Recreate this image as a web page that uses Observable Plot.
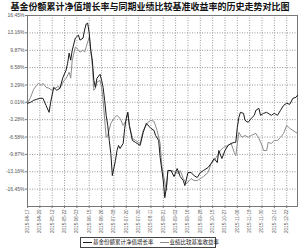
<!DOCTYPE html>
<html><head><meta charset="utf-8">
<script src="https://cdn.jsdelivr.net/npm/d3@7"></script>
<script src="https://cdn.jsdelivr.net/npm/@observablehq/plot@0.6"></script>
<style>
body{margin:0;background:#fff;width:300px;height:249px;overflow:hidden;font-family:"Noto Sans CJK SC",sans-serif;position:relative}
#title{height:13px;line-height:11px;padding-top:1px;font-size:9px;font-weight:bold;text-align:center;color:#111;white-space:nowrap;box-sizing:border-box}
#chart svg{display:block}
#legend{position:absolute;left:80px;top:237px;width:134px;height:9px;border:1px solid #444;font-size:5.5px;line-height:9px;display:flex;align-items:center;color:#111;white-space:nowrap}
#legend .it{display:flex;align-items:center;margin-left:2px;margin-right:4px}
#legend .sw{display:inline-block;width:9px;height:0;border-top:1px solid #111;margin-right:1px}
</style></head>
<body>
<div id="title">基金份额累计净值增长率与同期业绩比较基准收益率的历史走势对比图</div>
<div id="chart"></div>
<div id="legend"><span class="it"><span class="sw" style="border-color:#1a1a1a"></span>基金份额累计净值增长率</span><span class="it"><span class="sw" style="border-color:#8c8c8c"></span>业绩比较基准收益率</span></div>
<script>
const fundDays=[0,2,4,6,8,10,12,14,15,17,19,21,23,25,26,27,28,29,31,33,34,36,37,38,39,40,41,42,43,44,45,47,48,49,50,51,52,53,54,55,57,58,59,60,62,63,64,65,66,68,70,73,75,77,80,82,83,85,86,88,89,90,91,93,95,97,99,101,102,104,106,108,110,112,114,117,119,121,123,124,126,128,130,132,134,135,136,137,138,140,141,143,145,147,148,150,151,153,155,158,160,162,164,166,168,170,172,174,175];
const fundVals=[-0.19,0.0,0.38,0.57,0.76,0.76,-0.57,-1.90,0.0,2.85,2.28,2.66,4.75,6.08,7.41,9.32,7.98,9.89,12.17,12.74,11.79,12.17,13.69,14.83,15.02,13.12,9.89,7.98,4.18,2.85,4.56,5.32,4.18,2.85,0.38,-2.47,-4.37,-7.22,-9.70,-13.88,-11.03,-9.13,-8.17,-8.75,-7.79,-4.94,-3.04,-1.90,-4.37,-7.22,-7.60,-8.17,-5.70,-3.99,-4.94,-5.32,-6.27,-7.22,-10.46,-14.83,-18.06,-16.16,-12.93,-12.93,-14.07,-12.55,-14.07,-14.83,-15.78,-13.31,-13.31,-13.88,-14.26,-13.31,-12.93,-12.36,-11.60,-10.65,-11.41,-9.13,-10.65,-9.13,-8.17,-7.79,-7.60,-7.60,-4.75,-2.85,-1.90,-2.09,-3.42,-3.80,-3.04,-2.47,-1.52,-1.14,-2.47,-2.09,-1.90,-2.47,-2.09,-2.47,-1.52,-0.57,-0.19,-0.38,0.76,0.95,1.33];
const benchDays=[0,2,4,6,7,9,10,12,14,16,18,20,21,23,25,27,28,29,31,32,34,36,37,40,41,42,43,44,45,47,48,49,51,52,54,56,58,60,62,64,65,66,68,70,73,75,78,80,82,84,86,87,90,91,94,96,98,99,101,103,106,108,110,112,114,117,119,121,123,125,127,130,132,134,135,137,139,141,143,145,148,150,152,153,155,156,158,160,162,164,166,168,170,172,174,175];
const benchVals=[-0.19,0.95,2.47,3.23,3.61,3.23,3.61,2.85,2.66,2.28,2.66,3.04,2.66,3.80,4.56,5.70,4.56,7.98,10.46,10.27,9.51,9.89,9.51,12.36,9.89,7.03,2.28,2.66,3.80,4.18,2.85,0.38,-6.65,-6.27,-3.99,-3.04,-2.47,-3.04,-4.37,-3.42,-1.90,-4.37,-6.84,-7.22,-7.79,-5.32,-3.80,-3.42,-3.61,-5.32,-7.79,-11.98,-16.73,-12.93,-12.93,-13.31,-13.50,-12.93,-14.45,-15.40,-14.45,-14.83,-14.83,-14.45,-14.07,-13.31,-11.60,-11.03,-10.08,-9.13,-8.56,-8.17,-7.79,-9.51,-10.08,-5.70,-6.65,-6.27,-6.65,-6.27,-5.89,-6.84,-8.17,-9.13,-9.13,-7.60,-7.79,-7.22,-7.22,-6.65,-5.89,-4.37,-4.94,-5.32,-5.70,-5.89];
const tickDays=[0,8,16,24,32,40,48,56,64,72,80,88,96,104,112,120,128,136,144,152,160,168];
const tickLabels=["2015-04-17","2015-04-29","2015-05-12","2015-05-22","2015-06-03","2015-06-15","2015-06-26","2015-07-08","2015-07-20","2015-07-30","2015-08-11","2015-08-21","2015-09-02","2015-09-16","2015-09-28","2015-10-15","2015-10-27","2015-11-06","2015-11-18","2015-11-30","2015-12-10","2015-12-22"];
const yTicks=[-16.45,-13.16,-9.87,-6.58,-3.28,0.01,3.29,6.58,9.87,13.16,16.45];
const yLabels=["-16.45%","-13.16%","-9.87%","-6.58%","-3.28%","0.01%","3.29%","6.58%","9.87%","13.16%","16.45%"];

const fund=fundDays.map((d,i)=>({day:d,v:fundVals[i]}));
const bench=benchDays.map((d,i)=>({day:d,v:benchVals[i]}));
const xMap=new Map(tickDays.map((d,i)=>[d,tickLabels[i]]));
const yMap=new Map(yTicks.map((d,i)=>[d,yLabels[i]]));

const chart=Plot.plot({
  width:300,height:224,marginTop:2,marginBottom:31,marginLeft:27,marginRight:3,
  x:{domain:[0,175],label:null},
  y:{domain:[-19.74,16.45],label:null},
  style:{fontFamily:"Liberation Sans",fontSize:"5px",background:"#fff"},
  marks:[
    Plot.gridX(tickDays,{stroke:"#999",strokeOpacity:1,strokeDasharray:"1,1.5"}),
    Plot.gridY(yTicks,{stroke:"#999",strokeOpacity:1,strokeDasharray:"1,1.5"}),
    Plot.frame({stroke:"#777"}),
    Plot.axisY(yTicks,{tickFormat:d=>yMap.get(d),tickSize:2,tickPadding:1,fontSize:5,fill:"#555",stroke:"#777"}),
    Plot.axisX(tickDays,{tickFormat:d=>xMap.get(d),tickRotate:-90,tickSize:2,tickPadding:1,fontSize:4.6,fill:"#555",stroke:"#777"}),
    Plot.line(bench,{x:"day",y:"v",stroke:"#8c8c8c",strokeWidth:1}),
    Plot.line(fund,{x:"day",y:"v",stroke:"#1a1a1a",strokeWidth:1})
  ]
});
document.getElementById("chart").appendChild(chart);
</script>
</body></html>
